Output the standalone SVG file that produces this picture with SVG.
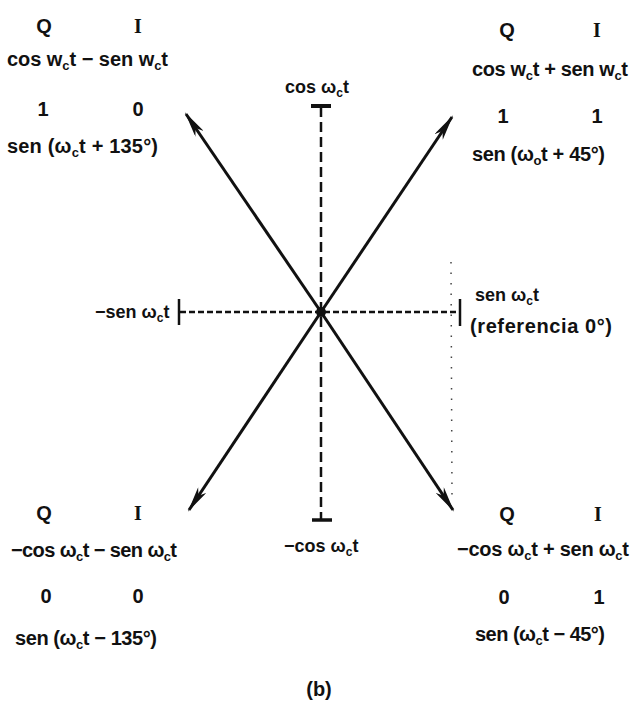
<svg xmlns="http://www.w3.org/2000/svg" width="630" height="709" viewBox="0 0 630 709">
<style>
.t{font-family:"Liberation Sans",Arial,sans-serif;font-size:20px;font-weight:bold;fill:#111}
.m{font-size:18px}
.c{text-anchor:middle}
.s{font-size:13px}
.m .s{font-size:12px}
.i{font-family:"Liberation Serif","Times New Roman",serif;font-size:20px;font-weight:bold;fill:#111;text-anchor:middle}
.ax{stroke:#111;stroke-width:2.5;fill:none}
.v{stroke-dasharray:10 5}
.h{stroke-dasharray:6 3}
.tk{stroke:#111;fill:none}
.ar{stroke:#111;stroke-width:3;fill:none;marker-end:url(#ah)}
.dot{stroke:#444;stroke-width:1.5;stroke-dasharray:1.5 9;fill:none}
</style>
<defs>
<marker id="ah" viewBox="0 0 26 10" refX="24" refY="5" markerWidth="26" markerHeight="10" markerUnits="userSpaceOnUse" orient="auto">
<path d="M0,0 L26,5 L0,10 L7,5 Z" fill="#111"/>
</marker>
</defs>
<rect width="630" height="709" fill="#fff"/>

<g id="connectors">
<line class="ax v" x1="321" y1="107" x2="321" y2="520"/>
<line class="ax h" x1="180" y1="312" x2="460" y2="312"/>
<line class="tk" x1="311" y1="106" x2="331" y2="106" stroke-width="4"/>
<line class="tk" x1="312" y1="520" x2="332" y2="520" stroke-width="3.5"/>
<line class="tk" x1="179" y1="299" x2="179" y2="325" stroke-width="2.5"/>
<line class="tk" x1="460" y1="299" x2="460" y2="326" stroke-width="2.5"/>
<line class="ar" x1="321" y1="312" x2="186" y2="114"/>
<line class="ar" x1="321" y1="312" x2="452" y2="117"/>
<line class="ar" x1="321" y1="312" x2="189" y2="510"/>
<line class="ar" x1="321" y1="312" x2="453" y2="510"/>
<circle cx="321" cy="312" r="5" fill="#111"/>
<line class="dot" x1="451" y1="262" x2="452" y2="496"/>
</g>

<g id="node-q2">
<text class="t c" x="44" y="33">Q</text>
<text class="i" x="138" y="33">I</text>
<text class="t" x="7" y="66" textLength="161" lengthAdjust="spacing">cos w<tspan class="s" dy="4">c</tspan><tspan dy="-4">t − sen w</tspan><tspan class="s" dy="4">c</tspan><tspan dy="-4">t</tspan></text>
<text class="t c" x="43" y="116">1</text>
<text class="t c" x="138" y="116">0</text>
<text class="t" x="7" y="153" textLength="151" lengthAdjust="spacing">sen (ω<tspan class="s" dy="4">c</tspan><tspan dy="-4">t + 135°)</tspan></text>
</g>

<g id="node-q1">
<text class="t c" x="507" y="37">Q</text>
<text class="i" x="597" y="37">I</text>
<text class="t" x="472" y="76" textLength="156" lengthAdjust="spacing">cos w<tspan class="s" dy="4">c</tspan><tspan dy="-4">t + sen w</tspan><tspan class="s" dy="4">c</tspan><tspan dy="-4">t</tspan></text>
<text class="t c" x="503" y="123">1</text>
<text class="t c" x="597" y="123">1</text>
<text class="t" x="472" y="161" textLength="133" lengthAdjust="spacing">sen (ω<tspan class="s" dy="4">o</tspan><tspan dy="-4">t + 45°)</tspan></text>
</g>

<g id="node-top">
<text class="t m" x="285" y="93">cos ω<tspan class="s" dy="4">c</tspan><tspan dy="-4">t</tspan></text>
</g>

<g id="node-left">
<text class="t m" x="95" y="318">−sen ω<tspan class="s" dy="4">c</tspan><tspan dy="-4">t</tspan></text>
</g>

<g id="node-right">
<text class="t m" x="475" y="301">sen ω<tspan class="s" dy="4">c</tspan><tspan dy="-4">t</tspan></text>
<text class="t" x="470" y="333" textLength="142" lengthAdjust="spacing">(referencia 0°)</text>
</g>

<g id="node-bottom">
<text class="t m" x="284" y="552">−cos ω<tspan class="s" dy="4">c</tspan><tspan dy="-4">t</tspan></text>
</g>

<g id="node-q3">
<text class="t c" x="44" y="520">Q</text>
<text class="i" x="138" y="520">I</text>
<text class="t" x="11" y="557" textLength="166" lengthAdjust="spacing">−cos ω<tspan class="s" dy="4">c</tspan><tspan dy="-4">t − sen ω</tspan><tspan class="s" dy="4">c</tspan><tspan dy="-4">t</tspan></text>
<text class="t c" x="46" y="603">0</text>
<text class="t c" x="138" y="603">0</text>
<text class="t" x="15" y="645" textLength="142" lengthAdjust="spacing">sen (ω<tspan class="s" dy="4">c</tspan><tspan dy="-4">t − 135°)</tspan></text>
</g>

<g id="node-q4">
<text class="t c" x="507" y="521">Q</text>
<text class="i" x="598" y="521">I</text>
<text class="t" x="457" y="556" textLength="172" lengthAdjust="spacing">−cos ω<tspan class="s" dy="4">c</tspan><tspan dy="-4">t + sen ω</tspan><tspan class="s" dy="4">c</tspan><tspan dy="-4">t</tspan></text>
<text class="t c" x="504" y="604">0</text>
<text class="t c" x="599" y="604">1</text>
<text class="t" x="475" y="641" textLength="130" lengthAdjust="spacing">sen (ω<tspan class="s" dy="4">c</tspan><tspan dy="-4">t − 45°)</tspan></text>
</g>

<g id="caption">
<text class="t c" x="319" y="696">(b)</text>
</g>
</svg>
